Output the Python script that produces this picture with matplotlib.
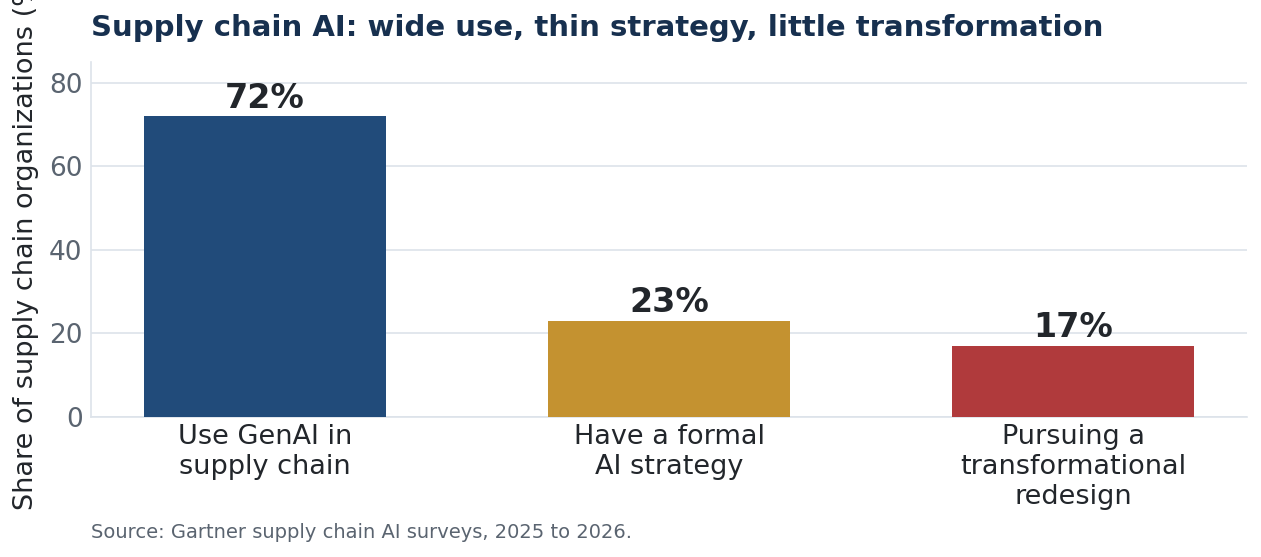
import numpy as np
import matplotlib.pyplot as plt

categories = ["Use GenAI in\nsupply chain", "Have a formal\nAI strategy", "Pursuing a\ntransformational\nredesign"]
values = [72, 23, 17]
colors = ["#214b7a", "#c49230", "#b03a3c"]

plt.rcParams['font.family'] = ['DejaVu Sans']

fig = plt.figure(figsize=(12.61, 5.57), dpi=100)
ax = fig.add_axes([91/1261, 1 - 417/557, (1247-91)/1261, (417-62)/557])

x = np.arange(len(categories))
bars = ax.bar(x, values, width=0.6, color=colors, zorder=3)
for xi, v in zip(x, values):
    ax.text(xi, v + 0.4, f"{v}%", ha='center', va='bottom', fontsize=24,
            fontweight='bold', color='#22262b', zorder=4)

ax.set_ylim(0, 85)
ax.set_yticks([0, 20, 40, 60, 80])
ax.set_xticks(x)
ax.set_xticklabels(categories, fontsize=19.5, color='#22262b')
ax.tick_params(axis='y', labelsize=19, labelcolor='#5a6470', length=0, pad=6)
ax.tick_params(axis='x', length=0, pad=5)
ax.grid(axis='y', color='#dde3ea', linewidth=1.2, zorder=0)
for s in ['top', 'right']:
    ax.spines[s].set_visible(False)
for s in ['left', 'bottom']:
    ax.spines[s].set_color('#dde3ea')
    ax.spines[s].set_linewidth(1.2)

ax.set_ylabel("Share of supply chain organizations (%)", fontsize=19.5, color='#22262b')
ax.yaxis.set_label_coords(-0.045, 0.5)

fig.text(91/1261, 1 - 28/557, "Supply chain AI: wide use, thin strategy, little transformation",
         fontsize=21, fontweight='bold', color='#17304f', ha='left', va='center')
fig.text(91/1261, 1 - 532/557, "Source: Gartner supply chain AI surveys, 2025 to 2026.",
         fontsize=14, color='#5a6470', ha='left', va='center')

fig.savefig('out.png', dpi=100)
